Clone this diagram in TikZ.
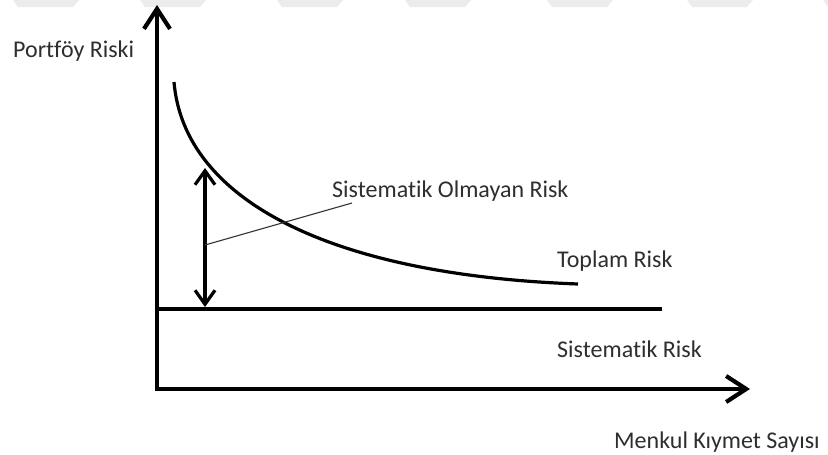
\documentclass[tikz,border=0pt]{standalone}
\usepackage{fontspec}
\setmainfont{Carlito}[Ligatures=NoCommon]
\usetikzlibrary{arrows.meta}
\definecolor{labelgray}{HTML}{2E2E2E}
\definecolor{bandgray}{HTML}{ECECEC}
\tikzset{
  axis/.style={line width=4.2pt, -{Straight Barb[length=20pt,width=26pt,line width=4.2pt]}},
  curveline/.style={line width=3.2pt},
  levelline/.style={line width=3.4pt},
  span/.style={line width=3.2pt, {Straight Barb[length=14pt,width=20pt,line width=3.2pt]}-{Straight Barb[length=14pt,width=20pt,line width=3.2pt]}},
  pointer/.style={line width=1.1pt, draw=black!80},
  lbl/.style={anchor=base west, inner sep=0pt, text=labelgray, font=\fontsize{24}{28}\selectfont},
  band/.style={fill=bandgray, draw=none}
}
\begin{document}
\begin{tikzpicture}[x=1pt,y=-1pt]
\useasboundingbox (0,0) rectangle (828,455);
\fill[white] (0,0) rectangle (828,455);

% light banded strip along the top edge
\foreach \s in {13,140,277,405,547,687,823}{
  \fill[band] (\s,0) -- (\s+66,0) -- (\s+60,7) -- (\s+5,7) -- cycle;
}

% axes
\coordinate (O) at (157,389);
\coordinate (yTop) at (157,5);
\coordinate (xEnd) at (750,389);
\draw[axis] ([yshift=-2pt]O) -- (yTop);
\draw[axis] ([xshift=-2pt]O) -- (xEnd);

% systematic risk level
\coordinate (sysL) at (157,309);
\coordinate (sysR) at (662,309);
\draw[levelline] (sysL) -- (sysR);

% total risk curve
\coordinate (cStart) at (174,82);
\coordinate (cEnd) at (578,284);
\draw[curveline] (cStart) .. controls (184,200) and (330,275) .. (cEnd);

% unsystematic risk span
\coordinate (spanTop) at (205,168);
\coordinate (spanBot) at (205,307);
\draw[span] (spanTop) -- (spanBot);

% labels
\node[lbl] (yLabel) at (13,57) {Portföy Riski};
\node[lbl] (unsys) at (332,197) {Sistematik Olmayan Risk};
\node[lbl] (total) at (557,267) {Toplam Risk};
\node[lbl] (sys) at (557,357) {Sistematik Risk};
\node[lbl] (xLabel) at (614,448) {Menkul Kıymet Sayısı};

% leader from span to its label
\coordinate (leadA) at (205,245);
\coordinate (leadB) at (352,203);
\draw[pointer] (leadA) -- (leadB);
\end{tikzpicture}
\end{document}
